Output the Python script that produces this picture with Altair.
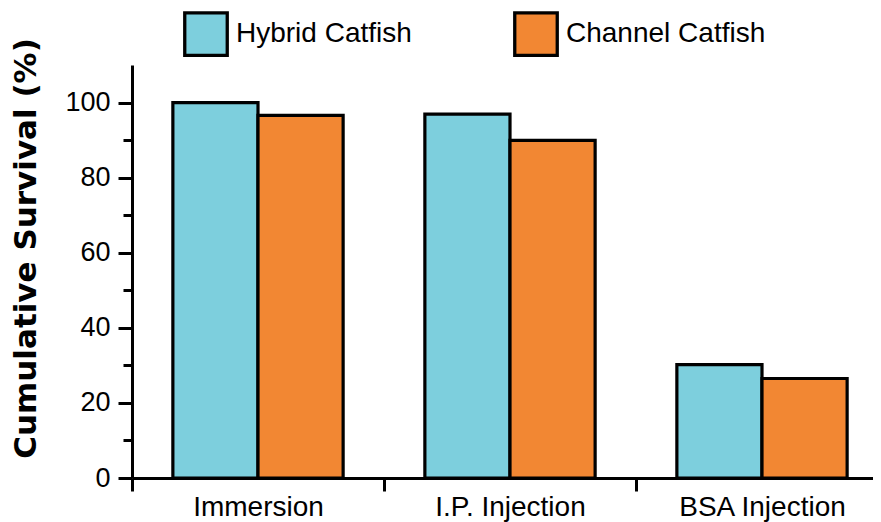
import altair as alt
import pandas as pd

methods = ["Immersion", "I.P. Injection", "BSA Injection"]
species = ["Hybrid Catfish", "Channel Catfish"]
hybrid = [100.0, 96.9, 30.2]
channel = [96.6, 89.9, 26.5]
y_ticks = [0, 10, 20, 30, 40, 50, 60, 70, 80, 90, 100]
colors = ["#7DCFDD", "#F28733"]

rows = []
for i, m in enumerate(methods):
    rows.append({"method": m, "species": species[0], "value": hybrid[i]})
    rows.append({"method": m, "species": species[1], "value": channel[i]})
df = pd.DataFrame(rows)

chart = alt.Chart(df).mark_bar(stroke="black", strokeWidth=3.2).encode(
    x=alt.X(
        "method:N", sort=methods,
        scale=alt.Scale(paddingInner=0, paddingOuter=0),
        axis=alt.Axis(title=None, labelAngle=0, tickBand="extent", tickSize=13, tickWidth=3,
                      tickColor="black", domainColor="black", domainWidth=3,
                      labelFont="Liberation Sans", labelFontSize=28, labelColor="black",
                      labelPadding=2),
    ),
    xOffset=alt.XOffset("species:N", sort=species,
                        scale=alt.Scale(paddingInner=0, paddingOuter=0.48)),
    y=alt.Y(
        "value:Q",
        scale=alt.Scale(domain=[0, 110], nice=False),
        axis=alt.Axis(
            values=y_ticks,
            labelExpr="datum.value % 20 === 0 ? datum.label : ''",
            tickSize={"condition": {"test": "datum.value % 20 === 0", "value": 14}, "value": 9},
            tickWidth=3, tickColor="black", domainColor="black", domainWidth=3,
            labelFont="Liberation Sans", labelFontSize=27, labelColor="black",
            labelPadding=8, grid=False,
            title="Cumulative Survival (%)", titleFont="DejaVu Sans", titleFontWeight="bold",
            titleFontSize=31, titleColor="black", titleAngle=270, titleX=-97, titleY=183,
            titleBaseline="alphabetic", titleAlign="center",
        ),
    ),
    color=alt.Color(
        "species:N", sort=species,
        scale=alt.Scale(domain=species, range=colors),
        legend=alt.Legend(
            title=None, orient="none", legendX=51, legendY=-54, direction="horizontal",
            symbolType="square", symbolSize=1806, symbolStrokeWidth=3.3, symbolStrokeColor="black",
            symbolOpacity=1, labelFont="Liberation Sans", labelFontSize=28, labelColor="black",
            labelOffset=7, labelLimit=0, columnPadding=96, padding=0,
        ),
    ),
).properties(
    width=756, height=413,
    padding={"left": 124, "top": 57, "right": -15, "bottom": 44},
    autosize=alt.AutoSizeParams(type="none"),
).configure(background="white").configure_view(stroke=None)

chart.save("out.html", embed_options={"renderer": "svg", "actions": False})
